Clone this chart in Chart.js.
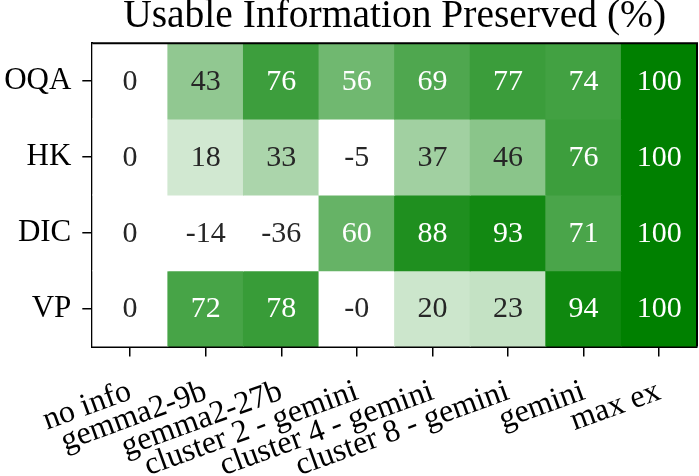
<!DOCTYPE html>
<html>
<head>
<meta charset="utf-8">
<script src="https://cdn.jsdelivr.net/npm/chart.js@4.4.1/dist/chart.umd.min.js"></script>
<style>
  body { margin: 0; background: #fff; }
</style>
</head>
<body>
<canvas id="heatmap" width="699" height="476"></canvas>
<script>
// columns of the heatmap
const columns = ['no info', 'gemma2-9b', 'gemma2-27b', 'cluster 2 - gemini', 'cluster 4 - gemini', 'cluster 8 - gemini', 'gemini', 'max ex'];
// rows, top to bottom
const rows = ['OQA', 'HK', 'DIC', 'VP'];
// usable information preserved (%) per row
const oqa = [0, 43, 76, 56, 69, 77, 74, 100];
const hk = [0, 18, 33, -5, 37, 46, 76, 100];
const dic = [0, -14, -36, 60, 88, 93, 71, 100];
const vp = [0, 72, 78, -0.2, 20, 23, 94, 100];
const rowValues = [oqa, hk, dic, vp];
const title = 'Usable Information Preserved (%)';

const FONT = "'Liberation Serif', 'Times New Roman', serif";

// white -> green (0,128,0), clipped at 0 and 100
function cellColor(v) {
  const f = Math.max(0, Math.min(100, v)) / 100;
  const r = Math.round(255 * (1 - f));
  const g = Math.round(255 - 127 * f);
  return 'rgb(' + r + ',' + g + ',' + r + ')';
}

const datasets = rows.map((name, i) => {
  const bottom = rows.length - 1 - i;
  return {
    label: name,
    data: rowValues[i].map(() => [bottom, bottom + 1]),
    values: rowValues[i],
    backgroundColor: rowValues[i].map(cellColor),
    borderWidth: 0,
    grouped: false,
    barPercentage: 1,
    categoryPercentage: 1,
    inflateAmount: 0.5
  };
});

// numbers in the cells, top/right frame and the title over the plot
const cellText = {
  id: 'cellText',
  afterDatasetsDraw(chart) {
    const ctx = chart.ctx;
    const a = chart.chartArea;
    ctx.save();
    ctx.font = '30px ' + FONT;
    ctx.textAlign = 'center';
    ctx.textBaseline = 'middle';
    chart.data.datasets.forEach((ds, di) => {
      chart.getDatasetMeta(di).data.forEach((bar, j) => {
        const v = ds.values[j];
        ctx.fillStyle = v >= 50 ? '#ffffff' : '#262626';
        ctx.fillText(v.toFixed(0), bar.x, (bar.y + bar.base) / 2 + 1);
      });
    });
    ctx.strokeStyle = '#000';
    ctx.lineWidth = 2;
    ctx.beginPath();
    ctx.moveTo(a.left, a.top);
    ctx.lineTo(a.right, a.top);
    ctx.lineTo(a.right, a.bottom);
    ctx.stroke();

    ctx.fillStyle = '#000';
    ctx.font = '39.5px ' + FONT;
    ctx.textBaseline = 'alphabetic';
    ctx.fillText(title, (a.left + a.right) / 2, 27);
    ctx.restore();
  }
};

new Chart(document.getElementById('heatmap'), {
  type: 'bar',
  data: { labels: columns, datasets: datasets },
  plugins: [cellText],
  options: {
    responsive: false,
    animation: false,
    layout: { padding: { top: 43.3, right: 2, bottom: 0, left: 0 } },
    plugins: {
      legend: { display: false },
      tooltip: { enabled: false },
      title: { display: false }
    },
    scales: {
      x: {
        grid: { drawOnChartArea: false, offset: false, tickLength: 10, color: '#000', lineWidth: 1.5 },
        border: { display: true, color: '#000', width: 2 },
        ticks: {
          color: '#000',
          font: { family: FONT, size: 32 },
          minRotation: 20,
          maxRotation: 20,
          autoSkip: false,
          padding: 16
        },
        afterFit: (scale) => { scale.height = 129.5; }
      },
      y: {
        min: 0,
        max: rows.length,
        grid: { drawOnChartArea: false, tickLength: 10, color: '#000', lineWidth: 1.5 },
        border: { display: true, color: '#000', width: 2 },
        ticks: {
          color: '#000',
          font: { family: FONT, size: 31 },
          padding: 11,
          callback: (value) => rows[rows.length - 1 - Math.floor(value)]
        },
        afterBuildTicks: (scale) => {
          scale.ticks = rows.map((_, i) => ({ value: rows.length - 0.5 - i }));
        },
        afterFit: (scale) => { scale.width = 92.3; }
      }
    }
  }
});
</script>
</body>
</html>
